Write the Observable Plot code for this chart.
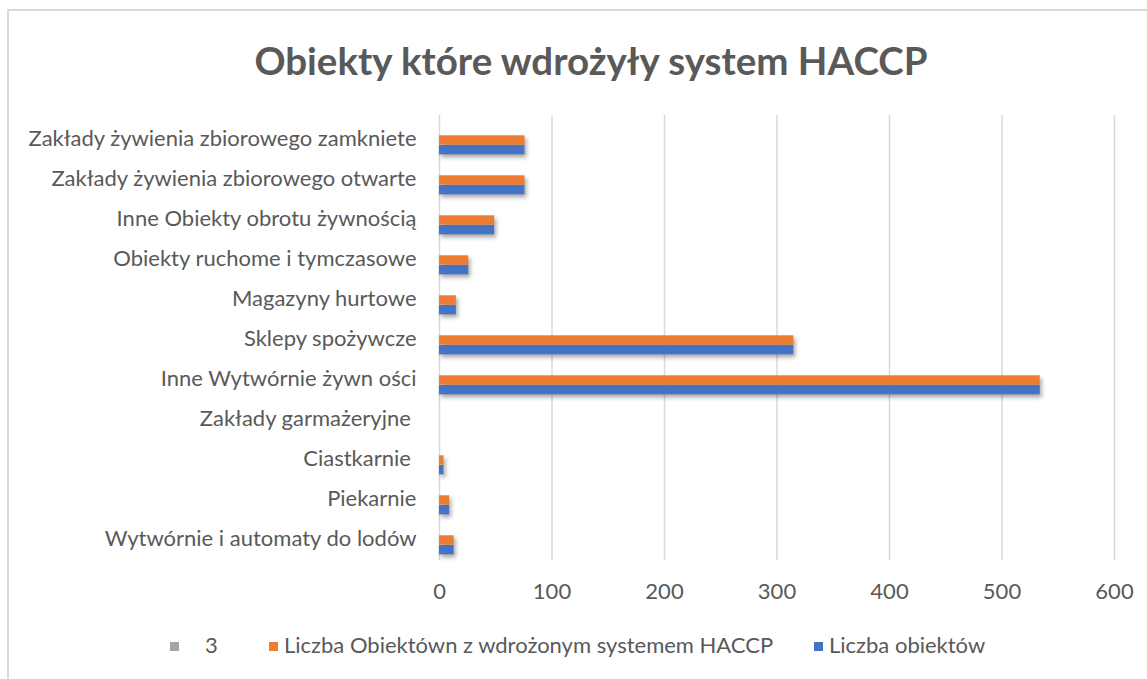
<!DOCTYPE html>
<html>
<head>
<meta charset="utf-8">
<script src="https://cdn.jsdelivr.net/npm/d3@7"></script>
<script src="https://cdn.jsdelivr.net/npm/@observablehq/plot@0.6"></script>
<style>
  html, body { margin: 0; padding: 0; background: #fff; }
  body { width: 1147px; height: 679px; position: relative; overflow: hidden; font-family: Lato, "Open Sans", sans-serif; color: #595959; }
  #frame { position: absolute; left: 7px; top: 9px; width: 1200px; height: 700px; border-left: 2px solid #d9d9d9; border-top: 2px solid #d9d9d9; box-sizing: border-box; }
  #title { position: absolute; left: 0; width: 1182px; top: 35px; text-align: center; font-size: 38.5px; font-weight: bold; color: #595959; line-height: 50px; }
  #chart { position: absolute; left: 0; top: 0; }
  #legend { position: absolute; top: 632px; left: 0; height: 26px; font-size: 22px; color: #595959; }
  .li { position: absolute; top: 0; white-space: nowrap; line-height: 26px; }
  .sw { display: inline-block; width: 9px; height: 9px; margin-right: 6px; vertical-align: 2px; }
  svg g[aria-label="bar"] rect { filter: drop-shadow(2px 3px 2px rgba(0,0,0,0.35)); }
</style>
</head>
<body>
<div id="frame"></div>
<div id="title">Obiekty które wdrożyły system HACCP</div>
<div id="chart"></div>
<div id="legend"></div>
<script>
const categories = [
  "Wytwórnie i automaty do lodów",
  "Piekarnie",
  "Ciastkarnie ",
  "Zakłady garmażeryjne ",
  "Inne Wytwórnie żywn ości",
  "Sklepy spożywcze",
  "Magazyny hurtowe",
  "Obiekty ruchome i tymczasowe",
  "Inne Obiekty obrotu żywnością",
  "Zakłady żywienia zbiorowego otwarte",
  "Zakłady żywienia zbiorowego zamkniete"
];
const seriesNames = ["3", "Liczba Obiektówn z wdrożonym systemem HACCP", "Liczba obiektów"];
const seriesColors = ["#a5a5a5", "#ed7d31", "#4472c4"];
const series3 = [0, 0, 0, 0, 0, 0, 0, 0, 0, 0, 0];
const haccp = [13, 9, 4, 0, 534, 315, 15, 26, 49, 76, 76];
const liczba = [13, 9, 4, 0, 534, 315, 15, 26, 49, 76, 76];
const xTicks = [0, 100, 200, 300, 400, 500, 600];

const rowsH = categories.map((c, i) => ({category: c, value: haccp[i]}));
const rowsL = categories.map((c, i) => ({category: c, value: liczba[i]}));

const chart = Plot.plot({
  width: 1147,
  height: 679,
  marginLeft: 439,
  marginRight: 33,
  marginTop: 115,
  marginBottom: 119,
  style: {fontFamily: "Lato, 'Open Sans', sans-serif", fontSize: "22px", color: "#595959", background: "transparent"},
  x: {domain: [0, 600], ticks: xTicks, tickSize: 0, tickPadding: 23, label: null, tickFormat: d => String(d)},
  y: {domain: categories.slice().reverse(), padding: 0, tickSize: 0, tickPadding: 23, label: null},
  marks: [
    Plot.ruleX(xTicks, {stroke: "#d9d9d9", strokeWidth: 1.5, strokeOpacity: 1}),
    Plot.barX(rowsH, {x: "value", y: "category", fill: seriesColors[1], insetTop: 17.3, insetBottom: 13.4}),
    Plot.barX(rowsL, {x: "value", y: "category", fill: seriesColors[2], insetTop: 27, insetBottom: 3.7})
  ]
});
document.getElementById("chart").appendChild(chart);

const legendPos = [170, 269, 814];
const legend = document.getElementById("legend");
seriesNames.forEach((name, i) => {
  const d = document.createElement("div");
  d.className = "li";
  d.style.left = legendPos[i] + "px";
  const s = document.createElement("span");
  s.className = "sw";
  s.style.background = seriesColors[i];
  if (i === 0) s.style.marginRight = "26px";
  d.appendChild(s);
  d.appendChild(document.createTextNode(name));
  legend.appendChild(d);
});
</script>
</body>
</html>
